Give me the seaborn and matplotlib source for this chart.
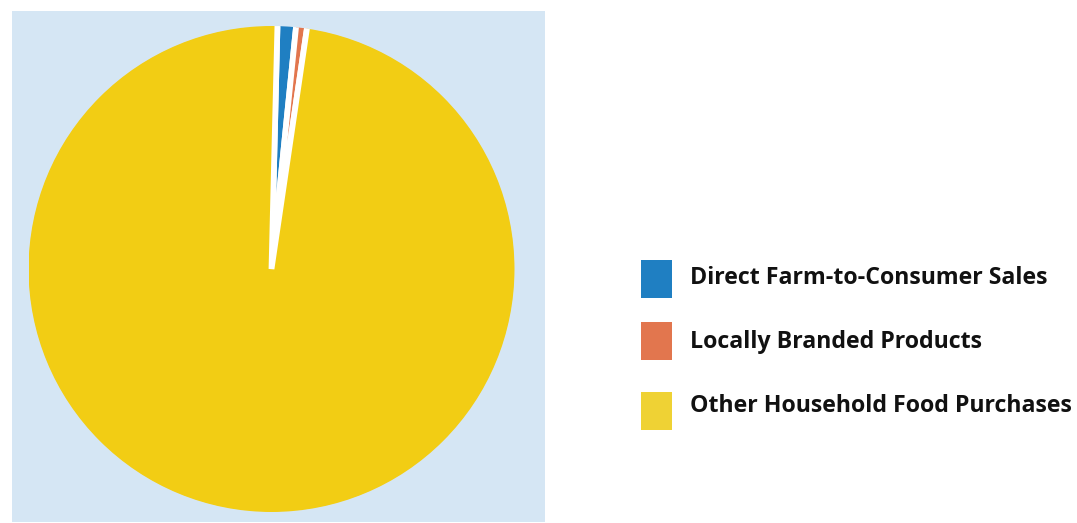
import matplotlib
matplotlib.use("Agg")
import matplotlib.pyplot as plt
from matplotlib.patches import Rectangle, Circle
import seaborn as sns

categories = ["Direct Farm-to-Consumer Sales", "Locally Branded Products", "Other Household Food Purchases"]
shares = [1.22, 0.72, 98.06]
pie_colors = ["#1f7fc2", "#e2764e", "#f2cd14"]
legend_colors = ["#1f7fc2", "#e2764e", "#efd234"]

sns.set_theme(style="white")
plt.rcParams['font.family'] = ['Open Sans', 'DejaVu Sans']

W, H = 1077, 523
fig = plt.figure(figsize=(W / 100, H / 100), dpi=100)
fig.patch.set_facecolor("white")

# light blue background panel behind the pie
bg = fig.add_axes([12 / W, 1 - 522 / H, (545 - 12) / W, (522 - 11) / H])
bg.set_facecolor("#d5e6f4")
bg.set_xticks([]); bg.set_yticks([])
for s in bg.spines.values():
    s.set_visible(False)

cx, cy, r = 271.5, 269, 243
edge_px = 5.8
ax = fig.add_axes([(cx - r) / W, 1 - (cy + r) / H, 2 * r / W, 2 * r / H])
wedges, _ = ax.pie(shares, colors=pie_colors, startangle=88.6, counterclock=False,
                   radius=1 + (edge_px / 2 + 0.5) / r,
                   wedgeprops=dict(edgecolor="white", linewidth=edge_px * 0.72))
ax.set_xlim(-1.0, 1.0)
ax.set_ylim(-1.0, 1.0)
ax.set_aspect("equal")
ax.axis("off")
clip = Circle((0, 0), 1.0, transform=ax.transData)
for w in wedges:
    w.set_clip_on(True)
    w.set_clip_path(clip)

# legend
lg = fig.add_axes([0, 0, 1, 1], facecolor="none")
lg.set_xlim(0, W)
lg.set_ylim(H, 0)
lg.axis("off")
y_tops = [260, 322, 392]
baselines = [284, 348, 412]
for cat, col, yt, by in zip(categories, legend_colors, y_tops, baselines):
    lg.add_patch(Rectangle((641, yt), 31, 38, facecolor=col, edgecolor="none"))
    lg.text(690, by, cat, fontsize=16.7, fontweight="bold", color="#111111",
            va="baseline", ha="left")

fig.savefig("out.png", dpi=100)
